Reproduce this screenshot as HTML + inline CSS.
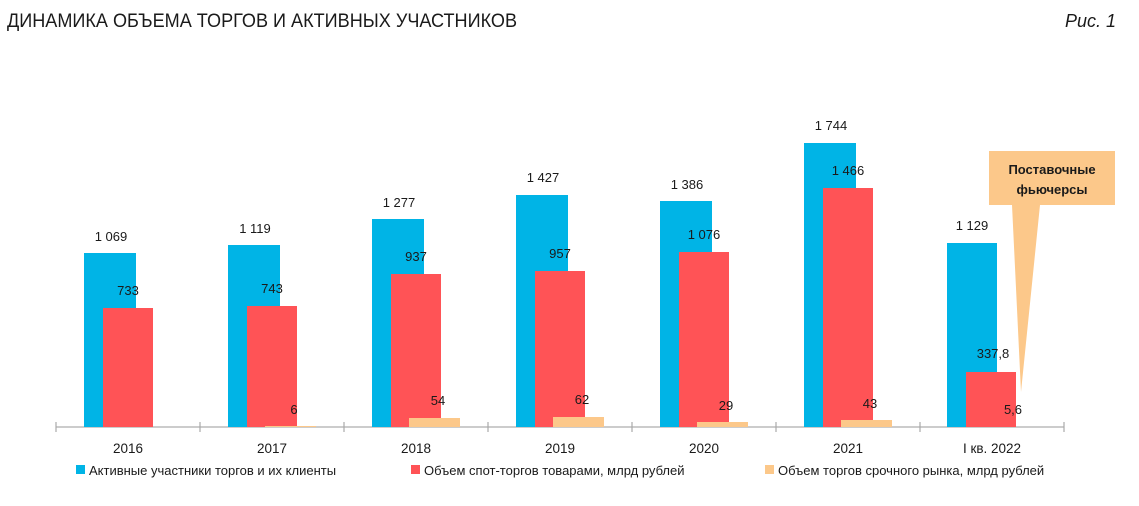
<!DOCTYPE html>
<html><head><meta charset="utf-8"><style>
body{margin:0;background:#fff;}
svg text{font-family:"Liberation Sans",sans-serif;fill:#1a1a1a;}
</style></head><body>
<svg width="1139" height="501" xmlns="http://www.w3.org/2000/svg">
<text x="7" y="27" font-size="19" style="font-family:'Liberation Sans Narrow','Liberation Sans',sans-serif" textLength="510" lengthAdjust="spacingAndGlyphs">ДИНАМИКА ОБЪЕМА ТОРГОВ И АКТИВНЫХ УЧАСТНИКОВ</text>
<text x="1116" y="27" font-size="18" font-style="italic" text-anchor="end">Рис. 1</text>
<g id="bars"></g>
<line x1="56" y1="427" x2="1064" y2="427" stroke="#bbb" stroke-width="1.5"/>
<g stroke="#aaa" stroke-width="1.2">
<line x1="56" y1="422" x2="56" y2="432"/><line x1="200" y1="422" x2="200" y2="432"/><line x1="344" y1="422" x2="344" y2="432"/><line x1="488" y1="422" x2="488" y2="432"/><line x1="632" y1="422" x2="632" y2="432"/><line x1="776" y1="422" x2="776" y2="432"/><line x1="920" y1="422" x2="920" y2="432"/><line x1="1064" y1="422" x2="1064" y2="432"/>
</g>
<polygon points="989,151 1115,151 1115,205 1040,205 1021,392 1012,205 989,205" fill="#fcc88a"/>
<text x="1052" y="174" font-size="13" font-weight="bold" text-anchor="middle">Поставочные</text>
<text x="1052" y="194" font-size="13" font-weight="bold" text-anchor="middle">фьючерсы</text>
<g font-size="13.5" text-anchor="middle">
<text x="128" y="453">2016</text><text x="272" y="453">2017</text><text x="416" y="453">2018</text><text x="560" y="453">2019</text><text x="704" y="453">2020</text><text x="848" y="453">2021</text><text x="992" y="453">I кв. 2022</text>
</g>
<rect x="76" y="465" width="9" height="9" fill="#00b4e6"/>
<text x="89" y="475" font-size="13">Активные участники торгов и их клиенты</text>
<rect x="411" y="465" width="9" height="9" fill="#ff5356"/>
<text x="424" y="475" font-size="13">Объем спот-торгов товарами, млрд рублей</text>
<rect x="765" y="465" width="9" height="9" fill="#fcc88a"/>
<text x="778" y="475" font-size="13">Объем торгов срочного рынка, млрд рублей</text>
<g font-size="13" text-anchor="middle">
<rect x="84" y="253" width="52" height="174" fill="#00b4e6"/><rect x="103" y="308" width="50" height="119" fill="#ff5356"/>
<text x="111" y="241">1 069</text><text x="128" y="295">733</text>
<rect x="228" y="245" width="52" height="182" fill="#00b4e6"/><rect x="247" y="306" width="50" height="121" fill="#ff5356"/><rect x="265" y="426" width="51" height="1" fill="#fcc88a"/>
<text x="255" y="233">1 119</text><text x="272" y="293">743</text><text x="294" y="414">6</text>
<rect x="372" y="219" width="52" height="208" fill="#00b4e6"/><rect x="391" y="274" width="50" height="153" fill="#ff5356"/><rect x="409" y="418" width="51" height="9" fill="#fcc88a"/>
<text x="399" y="207">1 277</text><text x="416" y="261">937</text><text x="438" y="405">54</text>
<rect x="516" y="195" width="52" height="232" fill="#00b4e6"/><rect x="535" y="271" width="50" height="156" fill="#ff5356"/><rect x="553" y="417" width="51" height="10" fill="#fcc88a"/>
<text x="543" y="182">1 427</text><text x="560" y="258">957</text><text x="582" y="404">62</text>
<rect x="660" y="201" width="52" height="226" fill="#00b4e6"/><rect x="679" y="252" width="50" height="175" fill="#ff5356"/><rect x="697" y="422" width="51" height="5" fill="#fcc88a"/>
<text x="687" y="189">1 386</text><text x="704" y="239">1 076</text><text x="726" y="410">29</text>
<rect x="804" y="143" width="52" height="284" fill="#00b4e6"/><rect x="823" y="188" width="50" height="239" fill="#ff5356"/><rect x="841" y="420" width="51" height="7" fill="#fcc88a"/>
<text x="831" y="130">1 744</text><text x="848" y="175">1 466</text><text x="870" y="408">43</text>
<rect x="947" y="243" width="50" height="184" fill="#00b4e6"/><rect x="966" y="372" width="50" height="55" fill="#ff5356"/>
<text x="972" y="230">1 129</text><text x="993" y="358">337,8</text><text x="1013" y="414">5,6</text>
</g>
</svg>
</body></html>
